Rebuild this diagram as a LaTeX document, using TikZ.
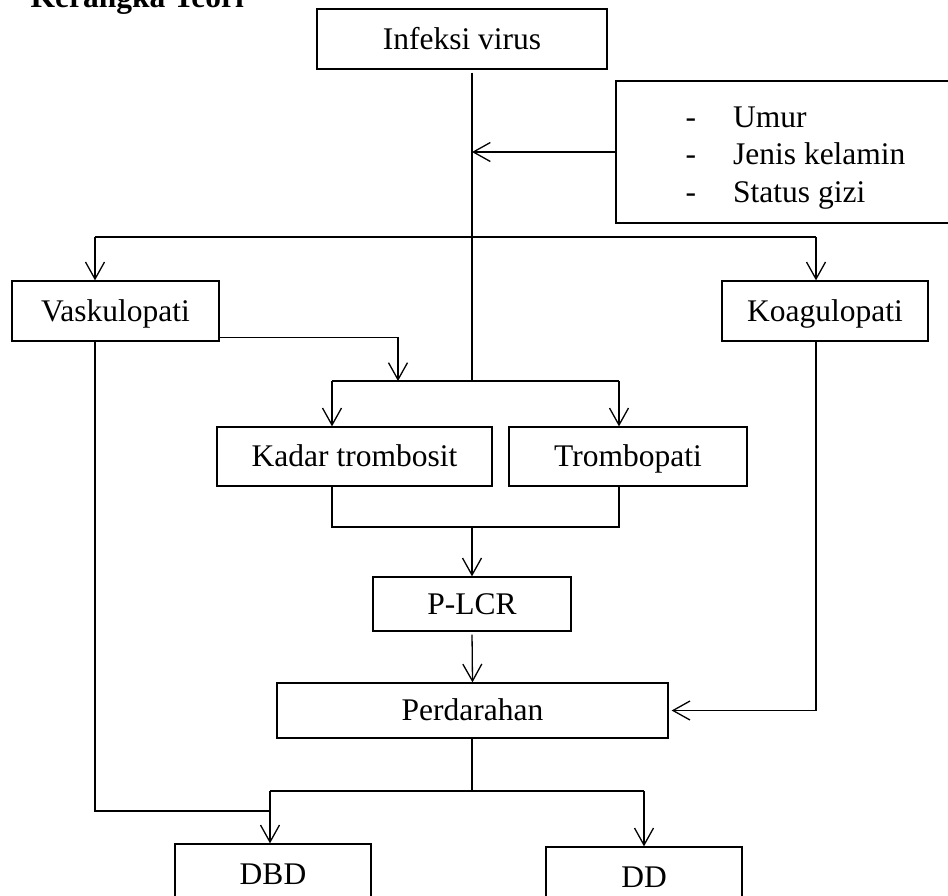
\documentclass[tikz,border=0pt]{standalone}
\usepackage{fontspec}
\setmainfont{Liberation Serif}
\usetikzlibrary{arrows.meta,calc}
\begin{document}
\begin{tikzpicture}[x=1pt,y=-1pt,
  line width=1.3pt,
  every node/.style={font=\fontsize{31.5}{37.5}\selectfont},
  box/.style={draw,rectangle,inner sep=0pt,text height=20.8pt,text depth=0pt,align=center},
  flow/.style={-{Straight Barb[length=17pt,width=19pt]}},
]
\useasboundingbox (0,0) rectangle (948,895);

% heading
\node[anchor=base west,inner sep=0pt,font=\fontsize{31.5}{37.5}\selectfont\bfseries] (title) at (30,7) {Kerangka Teori};

% boxes
\node[box,minimum width=290pt,minimum height=60pt] (infeksi) at (462,39) {Infeksi virus};
\node[draw,rectangle,inner sep=0pt,minimum width=344pt,minimum height=142pt] (faktor) at (788,152) {};
\node[anchor=west,inner sep=0pt] (faktorlist) at (685,157)
  {\begin{tabular}{@{}l@{\hspace{37pt}}l@{}}-&Umur\\-&Jenis kelamin\\-&Status gizi\end{tabular}};
\node[box,minimum width=207pt,minimum height=60pt] (vask) at (115.5,311) {Vaskulopati};
\node[box,minimum width=206pt,minimum height=60pt] (koag) at (825,311) {Koagulopati};
\node[box,minimum width=275pt,minimum height=59pt] (kadar) at (354.5,456.5) {Kadar trombosit};
\node[box,minimum width=238pt,minimum height=59pt] (tromb) at (628,456.5) {Trombopati};
\node[box,minimum width=198pt,minimum height=54pt] (plcr) at (472,604) {P-LCR};
\node[box,minimum width=391pt,minimum height=55pt] (perd) at (472.5,710.5) {Perdarahan};
\node[box,minimum width=196pt,minimum height=60pt] (dbd) at (273,874) {DBD};
\node[box,minimum width=196pt,minimum height=60pt] (dd) at (644,877) {DD};

% junction points
\coordinate (j1) at (472,381);
\coordinate (vL) at (95,237);
\coordinate (kR) at (816,237);
\coordinate (j2) at (398,381);
\coordinate (kL) at (332,381);
\coordinate (tR) at (619,381);
\coordinate (m) at (472,527);
\coordinate (d1) at (270,791);
\coordinate (d2) at (644,791);
\coordinate (v2) at (270,811);

% main trunk from the infection
\draw[shorten <=3pt] (infeksi.south -| j1) -- (j1);
\draw[flow] (faktor.west) -- (faktor.west -| j1);

% upper branch to vasculopathy and coagulopathy
\draw (vL) -- (kR);
\draw[flow] (vL) -- (vL |- vask.north);
\draw[flow] (kR) -- (kR |- koag.north);

% vasculopathy into the platelet branch
\draw[flow] ($(vask.south east)+(0,-4)$) -| (j2);

% platelet branch
\draw (kL) -- (tR);
\draw[flow] (kL) -- (kL |- kadar.north);
\draw[flow] (tR) -- (tR |- tromb.north);
\draw (kL |- kadar.south) |- (m) -| (tR |- tromb.south);
\draw[flow] (m) -- (plcr.north);
\draw[flow,shorten <=3pt] (plcr.south) -- (perd.north);

% coagulopathy into bleeding
\draw[flow,shorten >=3pt] (kR |- koag.south) |- (perd.east);

% outcomes
\draw (perd.south -| m) -- (m |- d1);
\draw (d1) -- (d2);
\draw[flow] (d1) -- (d1 |- dbd.north);
\draw[flow] (d2) -- (d2 |- dd.north);
\draw (vL |- vask.south) |- (v2);
\end{tikzpicture}
\end{document}
